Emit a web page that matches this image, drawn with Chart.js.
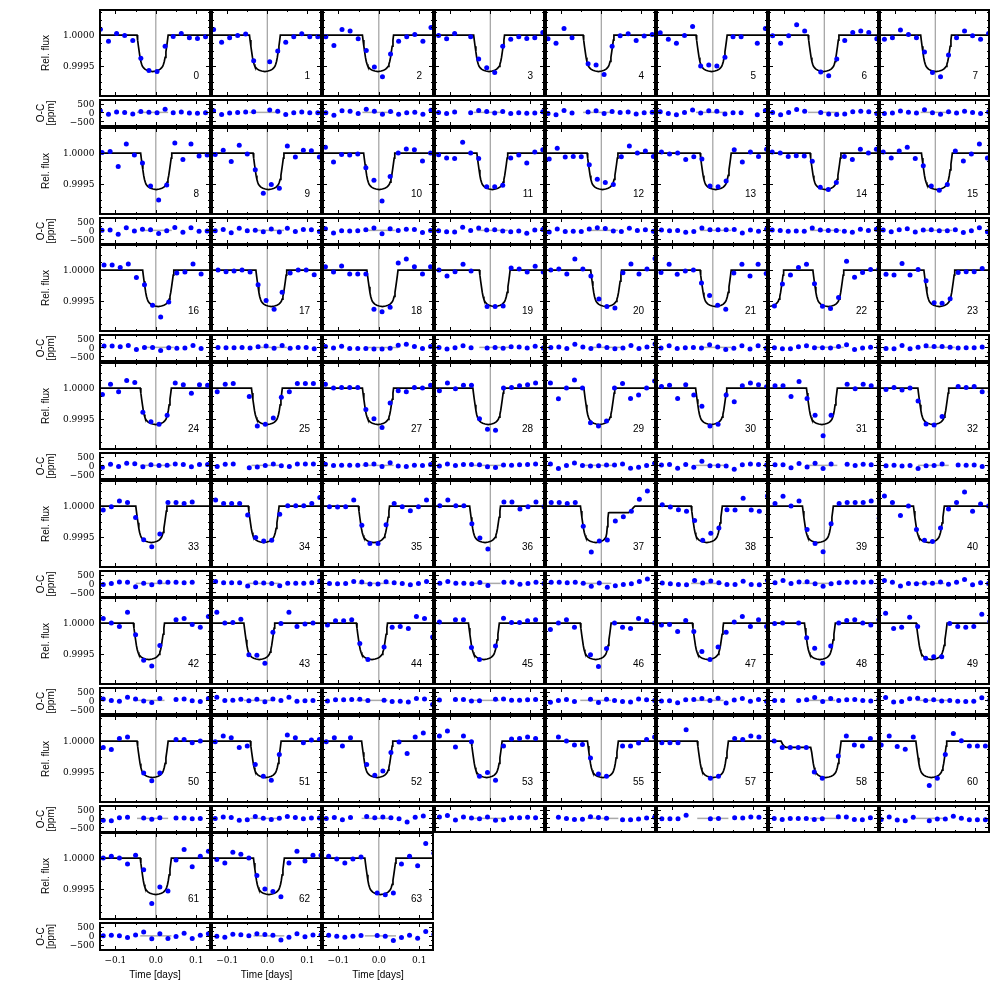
<!DOCTYPE html>
<html>
<head>
<meta charset="utf-8">
<title>Transit fits</title>
<script src="https://cdn.jsdelivr.net/npm/chart.js@4.4.1/dist/chart.umd.min.js"></script>
<style>
  html, body { margin: 0; padding: 0; background: #fff; }
  #fig { position: relative; width: 1000px; height: 1000px; overflow: hidden; }
  #fig canvas { position: absolute; }
</style>
</head>
<body>
<div id="fig"></div>
<script>
// Transit numbers, in panel order (left to right, top to bottom)
const panelIds = [
  0, 1, 2, 3, 4, 5, 6, 7,
  8, 9, 10, 11, 12, 13, 14, 15,
  16, 17, 18, 19, 20, 21, 22, 23,
  24, 25, 27, 28, 29, 30, 31, 32,
  33, 34, 35, 36, 37, 38, 39, 40,
  42, 43, 44, 45, 46, 47, 48, 49,
  50, 51, 52, 53, 55, 57, 58, 60,
  61, 62, 63,
];

// Time of the first binned point in each panel [days]; bins are 0.02 d apart
const binStart = [
  -0.137, -0.134, -0.131, -0.129, -0.133, -0.130, -0.129, -0.127,
  -0.133, -0.130, -0.132, -0.129, -0.130, -0.127, -0.130, -0.130,
  -0.128, -0.123, -0.132, -0.128, -0.126, -0.128, -0.1245, -0.123,
  -0.132, -0.125, -0.132, -0.127, -0.127, -0.127, -0.123, -0.123,
  -0.130, -0.129, -0.122, -0.126, -0.125, -0.125, -0.123, -0.127,
  -0.130, -0.126, -0.127, -0.127, -0.127, -0.127, -0.124, -0.124,
  -0.130, -0.130, -0.130, -0.127, -0.127, -0.126, -0.125, -0.135,
  -0.130, -0.126, -0.124,
];
const binStep = 0.02;

// Mid-transit time of the model in each panel [days]
const transitMid = [
  -0.008, -0.006, -0.002, -0.003, -0.007, -0.003, -0.002, 0.002,
  0.001, 0.003, 0.001, 0.005, 0.003, 0.007, 0.003, 0.004,
  0.006, 0.010, 0.009, 0.011, 0.012, 0.007, 0.010, 0.010,
  0.000, -0.001, -0.002, -0.005, -0.005, -0.004, -0.006, -0.005,
  -0.011, -0.009, -0.012, -0.013, -0.0135, -0.015, -0.016, -0.016,
  -0.017, -0.020, -0.017, -0.016, -0.014, -0.012, -0.011, -0.009,
  -0.008, -0.004, -0.004, -0.009, 0.004, 0.000, 0.0035, -0.010,
  0.000, 0.004, 0.004,
];

// Panel 22 also shows the end of a second transit at its left edge
const extraTransitIds = [22];
const extraTransitMid = [-0.140];

// Binned relative flux, ppm from 1.0, one row per panel (null = no point)
const binFlux = [
  [95, -100, 26, -5, -89, -373, -573, -589, -179, -21, 26, -42, -53, -26],
  [89, -116, -42, -5, 16, -416, null, -431, -258, -116, -26, 21, -26, -26],
  [-26, -168, 89, 68, -58, -247, -515, -673, -305, -100, -26, 11, -100, 121],
  [-5, -58, 26, null, -26, -384, -526, -605, -179, -68, -26, -53, -42, 42],
  [-58, -131, 105, -42, null, -463, -484, -636, -179, -11, 21, -89, -16, 11],
  [37, -68, -131, -5, 137, -500, -484, -500, -358, -26, -26, null, -131, 105],
  [-11, -131, -11, 168, 68, null, -594, -657, -384, -89, 42, 68, 42, -58],
  [-68, -42, 84, 11, -42, -274, -605, -673, -321, -42, 68, -11, -68, 26],

  [11, 26, -216, 147, -32, -158, -531, -757, -515, 163, -105, 147, -47, -32],
  [-21, 47, -137, 126, -16, -268, -647, -505, -568, 116, -63, 47, 37, -63],
  [95, -142, -21, -32, -16, -237, -437, -773, -379, 0, 68, 53, -126, 0],
  [-26, -79, -89, 174, 0, -89, -542, -542, -521, -79, -32, -158, 16, 53],
  [-95, 79, -63, -53, -58, -189, -421, -473, -505, -58, 116, 0, 32, -53],
  [16, -16, 0, -105, -58, -95, -531, -542, -452, 53, -142, 16, -53, 63],
  [16, 0, -53, -42, -47, -131, -552, -589, -473, -53, -105, 63, 0, 63],
  [16, -79, 32, 95, -89, -205, -531, -600, -505, 32, -126, -16, 147, -79],

  [84, 84, 42, 100, -121, -237, -568, -757, -515, -47, -32, 100, -63, null],
  [0, -26, -16, 0, -32, -237, -489, -631, -358, -47, 0, 0, -74, null],
  [53, -32, 68, -63, -63, -63, -631, -673, -600, 116, 179, 53, -63, 53],
  [0, -95, -26, 95, -16, null, -589, -589, -579, 32, 16, -32, 63, -32],
  [0, 16, -63, 179, 16, -95, -468, -589, -610, -42, 100, -63, 16, 189],
  [-37, 95, -68, -16, 0, -210, -410, -568, -631, -47, 95, -95, 95, -53],
  [-579, -226, -79, 42, 95, -221, -584, -621, -442, 142, -116, -37, 11, 11],
  [-68, -79, 105, -79, 11, -174, -526, -537, -463, -37, -26, -26, 26, null],

  [-105, 63, -58, 121, 89, -389, -542, -584, -437, 84, 53, -84, 53, 47],
  [-58, 63, 74, null, -137, -610, -584, -484, -147, -58, 74, 74, 74, null],
  [63, 0, 11, 11, 11, -347, -494, -636, -242, -42, -58, 11, 0, 47],
  [-42, 84, -11, 47, 47, -494, -663, -679, 0, 11, 37, 53, 84, null],
  [84, -174, 0, 131, 0, -558, -610, -531, 0, 74, -168, -110, 0, 116],
  [26, 47, -168, 53, -110, -295, -610, -584, -110, -221, 37, 84, 53, 21],
  [37, 37, -137, 105, -168, -437, -768, -437, null, 63, -11, 63, 37, 21],
  [-21, 11, -32, 0, -210, -579, -594, -458, null, 26, 11, 26, -58, -58],

  [-63, -11, 84, 58, -184, -542, -658, -452, 58, 58, 42, 68, null, null],
  [100, 42, 42, 42, -142, -505, -563, -552, -131, 5, 5, 5, 42, 137],
  [-11, -16, -11, 100, -310, -605, -605, -300, 42, -11, -74, -11, 100, null],
  [5, 100, 5, 5, -284, -515, -694, null, 68, 68, -47, -11, 68, -11],
  [58, 58, 42, 58, -326, -742, -563, -547, -242, -174, -84, 110, 242, null],
  [21, -16, -58, -84, -231, -552, -437, -352, -58, -63, 126, -63, -84, 163],
  [42, 158, 0, 84, -379, -605, -736, -284, 42, 58, 58, 58, 84, -195],
  [163, 58, -153, 0, -379, -552, -573, -352, -47, 58, 226, -84, 32, 0],

  [74, 0, -53, 174, -189, -600, -694, -363, null, 53, 74, -21, -68, 105],
  [174, 0, 11, 63, -510, -521, -647, -147, -5, 174, -53, -16, 0, null],
  [-32, 37, 37, 53, -331, -589, null, -384, -68, -53, -89, 105, 74, -226],
  [16, null, 53, 53, -394, -589, null, -368, 79, 11, 11, 37, 53, null],
  [-105, 0, 53, -68, null, -510, -700, -410, 0, -68, -89, 74, 37, 0],
  [-32, -21, -137, 42, -137, -458, -589, -384, -147, 16, 105, -53, 53, -53],
  [-5, 0, null, 0, -237, -405, -647, -368, 0, 42, 53, 0, -32, 53],
  [158, -89, -68, 95, -53, -568, -542, -542, -5, -53, -68, -53, 142, 26],

  [-105, -137, 42, 68, null, -515, -642, -515, null, 26, 26, -26, 0, null],
  [-11, 84, 53, -105, -79, -379, -568, -631, -216, 100, 53, -26, 16, 26],
  [-11, 53, -79, 53, null, -379, -552, -484, -184, -16, -200, 68, 131, null],
  [84, 163, -95, 84, -11, -568, -505, -631, -79, 32, 42, 68, 42, null],
  [null, 68, 0, -63, -53, -273, -531, -568, null, -79, -79, -32, 26, 68],
  [-26, -26, -26, 184, null, null, -600, -568, null, 42, 26, 84, 68, null],
  [0, -105, -105, -105, -105, -500, -600, null, -242, 84, -63, -79, 42, null],
  [-63, 84, -89, -131, 68, null, -715, -600, -216, 121, 5, -79, -79, -79],

  [0, 31, 0, -94, 47, -187, -733, -468, -530, -31, 140, -140, 31, 109],
  [-21, -78, 94, 62, 0, -281, -499, -541, -624, -78, 109, -47, 47, 47],
  [31, -16, -78, -16, 16, null, -562, -593, -562, -94, 31, -125, 234, 78],
];

// Transit model: distance from mid-transit [days] and flux [ppm], mirrored
const modelDt = [0, 0.008, 0.014, 0.019, 0.022, 0.025, 0.027, 0.029, 0.031, 0.033, 0.035, 0.037, 0.0385, 0.3];
const modelPpm = [-588, -580, -568, -550, -530, -505, -470, -425, -360, -270, -180, -80, 0, 0];

// Transits 37 and 58 have their own model curve (time [days], flux [ppm])
const model37T = [-0.3, -0.052, -0.0505, -0.0485, -0.0465, -0.0445, -0.0425, -0.0405, -0.0385, -0.0355,
  -0.0325, -0.0275, -0.0215, -0.0135, -0.0055, 0.0005, 0.0055, 0.0085, 0.0115, 0.0135, 0.015, 0.0165,
  0.018, 0.020, 0.068, 0.072, 0.076, 0.080, 0.084, 0.3];
const model37Ppm = [0, 0, -80, -180, -270, -360, -425, -470, -505, -530,
  -550, -568, -580, -588, -580, -568, -550, -530, -500, -440, -330, -200,
  -110, -105, -105, -90, -60, -25, 0, 0];
const model58T = [-0.3, -0.108, -0.104, -0.100, -0.096, -0.034, -0.0315, -0.0295, -0.0275, -0.0255, -0.0235,
  -0.0215, -0.0185, -0.0155, -0.0105, -0.0045, 0.0035, 0.0115, 0.0175, 0.0225, 0.0255, 0.0285,
  0.0305, 0.0325, 0.0345, 0.0365, 0.0385, 0.0405, 0.042, 0.3];
const model58Ppm = [0, 0, -50, -85, -100, -100, -180, -270, -360, -425, -470,
  -505, -530, -550, -568, -580, -588, -580, -568, -550, -530, -505,
  -470, -425, -360, -270, -180, -80, 0, 0];

// Ticks
const timeTicks = [-0.1, 0, 0.1];
const timeMinorTicks = [-0.05, 0.05];
const timeTickLabels = ['\u22120.1', '0.0', '0.1'];
const fluxTicks = [0.9995, 1.0];
const fluxMinorTicks = [0.999125, 0.99925, 0.999375, 0.999625, 0.99975, 0.999875, 1.000125, 1.00025, 1.000375];
const fluxTickLabels = ['0.9995', '1.0000'];
const ocTicks = [-500, 0, 500];
const ocMinorTicks = [-750, -250, 250];
const ocTickLabels = ['\u2212500', '0', '500'];

// Axis limits
const X_MIN = -0.138, X_MAX = 0.134;
const FLUX_MIN = 0.999017, FLUX_MAX = 1.000405;
const OC_MIN = -770, OC_MAX = 700;

// Layout (page pixels)
const colLeft = [100, 211, 322, 434, 545, 656, 768, 879, 990];
const rowTop = [9, 127, 244, 362, 480, 597, 715, 832];
const FLUX_H = 88, OC_OFF = 90, OC_H = 28, MARGIN = 3;

const BLUE = '#0000ff';
const SERIF = '9px "DejaVu Serif"';
const SANS = '10px "Liberation Sans"';

const fig = document.getElementById('fig');

const toFlux = (ppm) => 1 + ppm * 1e-6;

const interp = (xs, ys, v) => {
  for (let i = 1; i < xs.length; i++) {
    if (v <= xs[i]) {
      const f = (v - xs[i - 1]) / ((xs[i] - xs[i - 1]) || 1);
      return ys[i - 1] + f * (ys[i] - ys[i - 1]);
    }
  }
  return ys[ys.length - 1];
};

const baseAt = (dt) => interp(modelDt, modelPpm, Math.abs(dt));

// Model curve of one panel as {x: time, y: ppm} points
const modelCurve = (p) => {
  const id = panelIds[p];
  if (id === 37) return model37T.map((t, i) => ({ x: t, y: model37Ppm[i] }));
  if (id === 58) return model58T.map((t, i) => ({ x: t, y: model58Ppm[i] }));
  const mids = [transitMid[p]];
  const k = extraTransitIds.indexOf(id);
  if (k >= 0) mids.push(extraTransitMid[k]);
  const times = [];
  mids.forEach((tc) => modelDt.forEach((dt) => times.push(tc - dt, tc + dt)));
  times.sort((a, b) => a - b);
  return times.map((t) => ({ x: t, y: mids.reduce((s, tc) => s + baseAt(t - tc), 0) }));
};

const curveAt = (pts, t) => interp(pts.map((q) => q.x), pts.map((q) => q.y), t);

// Draws the frame, inward ticks and all the text of one panel
const panelDecor = {
  id: 'panelDecor',
  afterDraw(chart, args, o) {
    const { ctx, chartArea: a, scales: { x, y } } = chart;
    ctx.save();
    ctx.strokeStyle = '#000';
    ctx.lineWidth = 1;
    const vTick = (v, len) => {
      const px = Math.round(x.getPixelForValue(v)) + 0.5;
      ctx.beginPath();
      ctx.moveTo(px, a.bottom); ctx.lineTo(px, a.bottom - len);
      ctx.moveTo(px, a.top); ctx.lineTo(px, a.top + len);
      ctx.stroke();
    };
    const hTick = (v, len) => {
      const py = Math.round(y.getPixelForValue(v)) + 0.5;
      ctx.beginPath();
      ctx.moveTo(a.left, py); ctx.lineTo(a.left + len, py);
      ctx.moveTo(a.right, py); ctx.lineTo(a.right - len, py);
      ctx.stroke();
    };
    timeTicks.forEach((v) => vTick(v, 4));
    timeMinorTicks.forEach((v) => vTick(v, 2));
    o.yMajor.forEach((v) => hTick(v, 4));
    o.yMinor.forEach((v) => { if (v > y.min && v < y.max) hTick(v, 2); });
    ctx.lineWidth = 2;
    ctx.strokeRect(a.left, a.top, a.right - a.left, a.bottom - a.top);

    ctx.fillStyle = '#000';
    if (o.label !== undefined) {
      ctx.font = SANS;
      ctx.textAlign = 'right';
      ctx.textBaseline = 'alphabetic';
      ctx.fillText(o.label, a.left + 0.9 * (a.right - a.left), a.bottom - 0.2 * (a.bottom - a.top));
    }
    if (o.yLabels) {
      ctx.font = SERIF;
      ctx.textAlign = 'right';
      ctx.textBaseline = 'middle';
      o.yMajor.forEach((v, i) => ctx.fillText(o.yLabels[i], a.left - 5.5, y.getPixelForValue(v) + 1));
      ctx.font = SANS;
      ctx.textAlign = 'center';
      const cy = (a.top + a.bottom) / 2;
      o.yTitle.forEach((line, i) => {
        ctx.save();
        ctx.translate(o.yTitleX[i], cy);
        ctx.rotate(-Math.PI / 2);
        ctx.fillText(line, 0, 0);
        ctx.restore();
      });
    }
    if (o.xLabels) {
      ctx.font = SERIF;
      ctx.textAlign = 'center';
      ctx.textBaseline = 'middle';
      timeTicks.forEach((v, i) => ctx.fillText(timeTickLabels[i], x.getPixelForValue(v), a.bottom + 11));
      ctx.font = SANS;
      ctx.fillText('Time [days]', (a.left + a.right) / 2, a.bottom + 25);
    }
    ctx.restore();
  },
};

const addChart = (rect, ext, yMin, yMax, datasets, decor) => {
  const left = rect.left - ext.left;
  const top = rect.top - ext.top;
  const w = rect.right + ext.right - left;
  const h = rect.bottom + ext.bottom - top;
  const canvas = document.createElement('canvas');
  canvas.width = w;
  canvas.height = h;
  canvas.style.left = `${left}px`;
  canvas.style.top = `${top}px`;
  canvas.style.width = `${w}px`;
  canvas.style.height = `${h}px`;
  fig.appendChild(canvas);
  // eslint-disable-next-line no-undef
  return new Chart(canvas, {
    type: 'scatter',
    data: { datasets },
    options: {
      responsive: false,
      animation: false,
      events: [],
      devicePixelRatio: 1,
      layout: { padding: ext },
      scales: {
        x: { type: 'linear', min: X_MIN, max: X_MAX, display: false },
        y: { type: 'linear', min: yMin, max: yMax, display: false },
      },
      plugins: { legend: { display: false }, tooltip: { enabled: false }, panelDecor: decor },
    },
    plugins: [panelDecor],
  });
};

panelIds.forEach((id, p) => {
  const row = Math.floor(p / 8);
  const col = p % 8;
  const curve = modelCurve(p);
  const tc = id === 37 ? -0.0135 : transitMid[p];

  const fluxPts = [];
  const ocPts = [];
  binFlux[p].forEach((v, i) => {
    if (v === null) return;
    const t = binStart[p] + i * binStep;
    fluxPts.push({ x: t, y: toFlux(v) });
    ocPts.push({ x: t, y: v - curveAt(curve, t) });
  });

  const isLeft = col === 0;
  const isBottom = row === 7;
  const fluxRect = { left: colLeft[col], right: colLeft[col + 1], top: rowTop[row], bottom: rowTop[row] + FLUX_H };
  const ocRect = { left: colLeft[col], right: colLeft[col + 1], top: rowTop[row] + OC_OFF, bottom: rowTop[row] + OC_OFF + OC_H };
  const extX = { left: isLeft ? colLeft[0] : MARGIN, right: MARGIN };

  addChart(
    fluxRect,
    { ...extX, top: MARGIN, bottom: MARGIN },
    FLUX_MIN, FLUX_MAX,
    [
      { data: fluxPts, pointRadius: 2.5, pointBackgroundColor: BLUE, pointBorderWidth: 0, showLine: false, clip: 0, order: 0 },
      {
        data: curve.map((q) => ({ x: q.x, y: toFlux(q.y) })),
        showLine: true, borderColor: '#000', borderWidth: 1.7, pointRadius: 0, tension: 0, clip: 0, order: 1,
      },
      {
        data: [{ x: 0, y: FLUX_MIN }, { x: 0, y: FLUX_MAX }],
        showLine: true, borderColor: '#a0a0a0', borderWidth: 1.2, pointRadius: 0, clip: 0, order: 2,
      },
    ],
    {
      yMajor: fluxTicks, yMinor: fluxMinorTicks, label: String(id),
      yLabels: isLeft ? fluxTickLabels : null, yTitle: ['Rel. flux'], yTitleX: [46],
    },
  );

  addChart(
    ocRect,
    { ...extX, top: MARGIN, bottom: isBottom ? 1000 - ocRect.bottom : MARGIN },
    OC_MIN, OC_MAX,
    [
      { data: ocPts, pointRadius: 2.5, pointBackgroundColor: BLUE, pointBorderWidth: 0, showLine: false, clip: 0, order: 0 },
      {
        data: [{ x: tc - 0.0385, y: 0 }, { x: tc + 0.0385, y: 0 }],
        showLine: true, borderColor: '#aaaaaa', borderWidth: 1.5, pointRadius: 0, clip: 0, order: 1,
      },
    ],
    {
      yMajor: ocTicks, yMinor: ocMinorTicks,
      yLabels: isLeft ? ocTickLabels : null, yTitle: ['O-C', '[ppm]'], yTitleX: [41.5, 51],
      xLabels: isBottom,
    },
  );
});
</script>
</body>
</html>
